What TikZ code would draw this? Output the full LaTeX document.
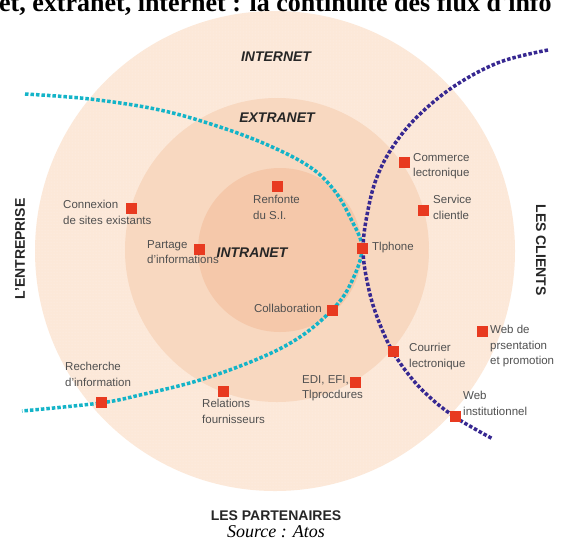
\documentclass[tikz,border=0pt]{standalone}
\usepackage{fontspec}
\setmainfont{Liberation Sans}
\newfontfamily\titlefont{Liberation Serif}
\usetikzlibrary{patterns}
\definecolor{ringout}{RGB}{252,232,216}
\definecolor{ringmid}{RGB}{248,216,192}
\definecolor{ringin}{RGB}{245,200,170}
\definecolor{sqred}{RGB}{232,58,32}
\definecolor{cyanline}{RGB}{20,180,200}
\definecolor{blueline}{RGB}{55,40,145}
\definecolor{labgray}{RGB}{80,80,80}
\begin{document}
\begin{tikzpicture}[x=1pt,y=-1pt,
  sq/.style={fill=sqred,minimum size=11pt,inner sep=0pt},
  lab/.style={font=\fontsize{11.5}{15.5}\selectfont,text=labgray,inner sep=0pt,align=left},
  zone/.style={font=\fontsize{14}{16}\selectfont\bfseries\itshape,text=black!85,inner sep=0pt},
  side/.style={font=\fontsize{14}{16}\selectfont\bfseries,text=black!85,inner sep=0pt},
  flow/.style={line width=3.5pt,dash pattern=on 3.5pt off 2pt},
]
\path[use as bounding box] (0,0) rectangle (562,542);
\clip (0,0) rectangle (562,542);
\fill[white] (0,0) rectangle (562,542);
% rings
\fill[ringout] (275,251) circle (240);
\fill[pattern=dots,pattern color=white,fill opacity=0.45] (275,251) circle (240);
\fill[ringmid] (277,250) circle (152);
\fill[ringin] (280,250) circle (82);
% title (cut by the top edge, as in the reference)
\node[anchor=base west,inner sep=0pt,font=\titlefont\bfseries\fontsize{26}{28}\selectfont] (title) at (-1,11) {et, extranet, internet : la continuité des flux d'info};
% zone labels
\node[zone] (internet) at (276,57) {INTERNET};
\node[zone] (extranet) at (277,118) {EXTRANET};
\node[zone] (intranet) at (252,253) {INTRANET};
\node[side,rotate=90] (entreprise) at (20,249) {L'ENTREPRISE};
\node[side,rotate=-90] (clients) at (541,250) {LES CLIENTS};
\node[side] (partenaires) at (276,516) {LES PARTENAIRES};
\node[inner sep=0pt,font=\titlefont\itshape\fontsize{18}{20}\selectfont] (source) at (276,532) {Source : Atos};
% flows
\draw[flow,cyanline] plot[smooth,tension=0.6] coordinates {(25,94) (90,99) (160,110) (220,127) (270,146) (310,167) (334,190) (351,219) (362,249) (350,285) (332,310) (300,337) (260,358) (200,380) (140,395) (100,403) (22,411)};
\draw[flow,blueline] plot[smooth,tension=0.6] coordinates {(548,50) (500,62) (456,85) (420,114) (396,142) (379,172) (369,205) (363,249) (369,290) (379,322) (393,352) (413,380) (434,401) (455,417) (475,429) (493,439)};
% squares and labels
\node[sq] (s-ren) at (277,186) {};
\node[lab,anchor=north west] (t-ren) at (253,195) {Renfonte\\du S.I.};
\node[sq] (s-con) at (131,208) {};
\node[lab,anchor=north west] (t-con) at (63,200) {Connexion\\de sites existants};
\node[sq] (s-par) at (199,249) {};
\node[lab,anchor=north west] (t-par) at (147,240) {Partage\\d'informations};
\node[sq] (s-tel) at (362,248) {};
\node[lab,anchor=west] (t-tel) at (372,248) {Tlphone};
\node[sq] (s-com) at (404,162) {};
\node[lab,anchor=north west] (t-com) at (413,153) {Commerce\\lectronique};
\node[sq] (s-ser) at (423,210) {};
\node[lab,anchor=north west] (t-ser) at (433,195) {Service\\clientle};
\node[sq] (s-col) at (332,310) {};
\node[lab,anchor=east] (t-col) at (322,308) {Collaboration};
\node[sq] (s-web) at (482,331) {};
\node[lab,anchor=north west] (t-web) at (490,325) {Web de\\prsentation\\et promotion};
\node[sq] (s-cou) at (393,351) {};
\node[lab,anchor=north west] (t-cou) at (409,343) {Courrier\\lectronique};
\node[sq] (s-edi) at (355,382) {};
\node[lab,anchor=north west] (t-edi) at (302,375) {EDI, EFI,\\Tlprocdures};
\node[sq] (s-wi) at (455,416) {};
\node[lab,anchor=north west] (t-wi) at (463,391) {Web\\institutionnel};
\node[sq] (s-rel) at (223,391) {};
\node[lab,anchor=north west] (t-rel) at (202,399) {Relations\\fournisseurs};
\node[sq] (s-rec) at (101,402) {};
\node[lab,anchor=north west] (t-rec) at (65,362) {Recherche\\d'information};
\end{tikzpicture}
\end{document}
